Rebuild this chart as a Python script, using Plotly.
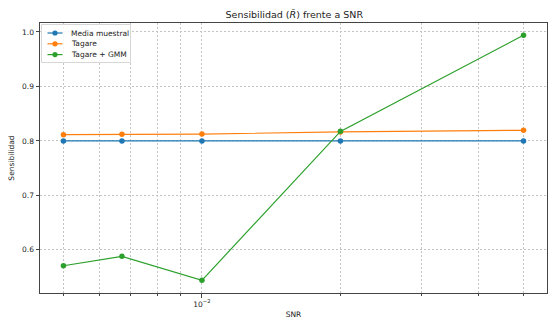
import plotly.graph_objects as go

snr = [0.005, 0.0067, 0.01, 0.02, 0.05]
media_muestral = [0.800, 0.800, 0.800, 0.800, 0.800]
tagare = [0.8115, 0.812, 0.8125, 0.8165, 0.8195]
tagare_gmm = [0.5707, 0.588, 0.544, 0.8175, 0.994]

series = [
    ("Media muestral", media_muestral, "#1f77b4"),
    ("Tagare", tagare, "#ff7f0e"),
    ("Tagare + GMM", tagare_gmm, "#2ca02c"),
]

W, H = 548, 320
ML, MR, MT, MB = 40, 1, 23, 27
PW, PH = W - ML - MR, H - MT - MB


def px_x(p):
    return (p - ML) / PW


def px_y(p):
    return (H - MB - p) / PH


fig = go.Figure()
for name, vals, col in series:
    fig.add_trace(go.Scatter(
        x=snr, y=vals, name=name, mode="lines+markers",
        line=dict(color=col, width=1.2),
        marker=dict(color=col, size=5.5),
    ))

# manual compact legend (matplotlib style)
shapes = [dict(type="rect", xref="paper", yref="paper",
               x0=px_x(41.5), x1=px_x(130.5), y0=px_y(62.5), y1=px_y(24.5),
               line=dict(color="#d6d6d6", width=1), fillcolor="rgba(255,255,255,0.85)",
               layer="above")]
annotations = []
for i, (name, vals, col) in enumerate(series):
    yc = 33 + i * 10.8
    shapes.append(dict(type="line", xref="paper", yref="paper",
                       x0=px_x(47.5), x1=px_x(62.5), y0=px_y(yc), y1=px_y(yc),
                       line=dict(color=col, width=1.2), layer="above"))
    shapes.append(dict(type="circle", xref="paper", yref="paper",
                       xsizemode="pixel", ysizemode="pixel",
                       xanchor=px_x(55), yanchor=px_y(yc),
                       x0=-2.6, x1=2.6, y0=-2.6, y1=2.6,
                       line=dict(color=col, width=0), fillcolor=col, layer="above"))
    annotations.append(dict(text=name, xref="paper", yref="paper",
                            x=px_x(68.5), y=px_y(yc), xanchor="left", yanchor="middle",
                            showarrow=False, font=dict(size=7.5, color="#222")))

grid_col = "#c4c4c4"
grid_dash = "2px,2px"
axis_col = "#444444"
minor_vals = [0.005, 0.006, 0.007, 0.008, 0.009, 0.02, 0.03, 0.04, 0.05]

fig.update_layout(
    width=W, height=H,
    margin=dict(l=ML, r=MR, t=MT, b=MB),
    paper_bgcolor="white", plot_bgcolor="white",
    font=dict(family="DejaVu Sans", size=8, color="#222"),
    title=dict(text="Sensibilidad (<i>R̂</i>) frente a SNR", x=0.537, xanchor="center",
               y=0.955, yanchor="middle", font=dict(size=9.5)),
    showlegend=False,
    shapes=shapes,
    annotations=annotations,
)

fig.update_xaxes(
    type="log", range=[-2.352, -1.25],
    tickvals=[0.01], ticktext=["10<sup>−2</sup>"],
    ticks="outside", ticklen=3.5, tickcolor=axis_col,
    showgrid=True, gridcolor=grid_col, griddash=grid_dash, gridwidth=0.8,
    showline=True, linecolor=axis_col, linewidth=1, mirror=True,
    zeroline=False,
    minor=dict(tickvals=minor_vals, ticks="outside", ticklen=2, tickcolor=axis_col,
               showgrid=True, gridcolor=grid_col, griddash=grid_dash, gridwidth=0.8),
    title=dict(text="SNR", font=dict(size=7.5), standoff=4),
    tickfont=dict(size=7.5),
)
fig.update_yaxes(
    range=[0.5207, 1.0165],
    tickvals=[0.6, 0.7, 0.8, 0.9, 1.0], tickformat=".1f",
    ticks="outside", ticklen=3.5, tickcolor=axis_col,
    showgrid=True, gridcolor=grid_col, griddash=grid_dash, gridwidth=0.8,
    showline=True, linecolor=axis_col, linewidth=1, mirror=True,
    zeroline=False,
    title=dict(text="Sensibilidad", font=dict(size=7.5), standoff=6),
    tickfont=dict(size=7.5),
)

fig.write_html("out.html")
